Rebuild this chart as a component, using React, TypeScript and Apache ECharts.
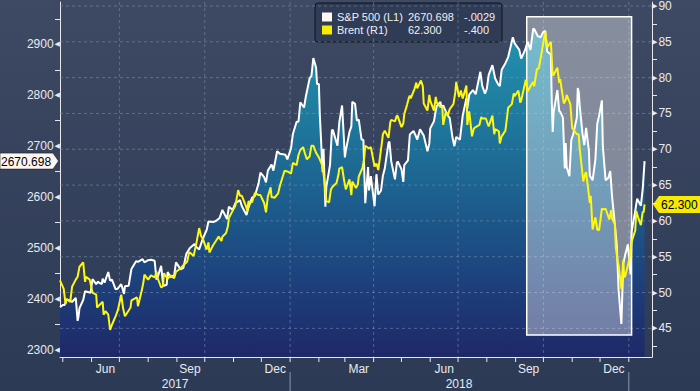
import React, { useEffect, useRef } from 'react';
import * as echarts from 'echarts';

const FONT = "'Liberation Sans', Arial, sans-serif";

const spx: [string, number][] = [
['2017-04-28',2384],['2017-05-01',2388],['2017-05-03',2388],['2017-05-05',2399],['2017-05-09',2397],['2017-05-11',2394],['2017-05-15',2402],['2017-05-17',2357],['2017-05-18',2366],['2017-05-19',2382],['2017-05-23',2398],['2017-05-25',2415],['2017-05-31',2412],['2017-06-02',2439],['2017-06-06',2429],['2017-06-08',2434],['2017-06-09',2432],['2017-06-12',2429],['2017-06-13',2440],['2017-06-15',2432],['2017-06-19',2453],['2017-06-21',2436],['2017-06-23',2438],['2017-06-27',2419],['2017-06-29',2420],['2017-07-03',2429],['2017-07-06',2410],['2017-07-07',2425],['2017-07-11',2426],['2017-07-13',2448],['2017-07-14',2459],['2017-07-19',2474],['2017-07-21',2473],['2017-07-26',2478],['2017-07-28',2472],['2017-08-01',2476],['2017-08-04',2477],['2017-08-08',2475],['2017-08-10',2438],['2017-08-11',2441],['2017-08-15',2465],['2017-08-17',2430],['2017-08-18',2426],['2017-08-21',2428],['2017-08-22',2453],['2017-08-25',2443],['2017-08-29',2446],['2017-08-31',2472],['2017-09-05',2458],['2017-09-08',2461],['2017-09-11',2488],['2017-09-15',2500],['2017-09-20',2508],['2017-09-22',2502],['2017-09-25',2497],['2017-09-29',2519],['2017-10-03',2535],['2017-10-05',2552],['2017-10-10',2551],['2017-10-13',2553],['2017-10-17',2559],['2017-10-20',2575],['2017-10-25',2557],['2017-10-27',2581],['2017-10-31',2575],['2017-11-03',2588],['2017-11-08',2594],['2017-11-10',2582],['2017-11-15',2565],['2017-11-17',2579],['2017-11-21',2599],['2017-11-24',2602],['2017-11-28',2627],['2017-11-30',2648],['2017-12-04',2639],['2017-12-06',2629],['2017-12-08',2652],['2017-12-12',2664],['2017-12-14',2652],['2017-12-18',2690],['2017-12-21',2685],['2017-12-27',2683],['2017-12-29',2674],
['2018-01-02',2696],['2018-01-04',2724],['2018-01-08',2748],['2018-01-10',2748],['2018-01-12',2786],['2018-01-16',2776],['2018-01-18',2798],['2018-01-22',2833],['2018-01-24',2838],['2018-01-26',2873],['2018-01-29',2854],['2018-01-30',2822],['2018-02-01',2822],['2018-02-02',2762],['2018-02-05',2649],['2018-02-06',2695],['2018-02-08',2581],['2018-02-09',2620],['2018-02-13',2663],['2018-02-15',2731],['2018-02-16',2732],['2018-02-21',2701],['2018-02-23',2747],['2018-02-26',2780],['2018-02-28',2714],['2018-03-01',2678],['2018-03-02',2691],['2018-03-06',2728],['2018-03-08',2739],['2018-03-09',2787],['2018-03-12',2783],['2018-03-14',2750],['2018-03-16',2752],['2018-03-19',2713],['2018-03-21',2712],['2018-03-22',2644],['2018-03-23',2588],['2018-03-26',2659],['2018-03-27',2613],['2018-03-29',2641],['2018-04-02',2582],['2018-04-04',2645],['2018-04-06',2605],['2018-04-09',2613],['2018-04-11',2642],['2018-04-13',2656],['2018-04-17',2706],['2018-04-18',2709],['2018-04-20',2670],['2018-04-24',2635],['2018-04-26',2667],['2018-04-27',2670],['2018-05-01',2655],['2018-05-03',2630],['2018-05-04',2663],['2018-05-08',2672],['2018-05-10',2723],['2018-05-14',2730],['2018-05-16',2722],['2018-05-18',2713],['2018-05-21',2733],['2018-05-25',2721],['2018-05-29',2690],['2018-05-31',2705],['2018-06-01',2735],['2018-06-05',2749],['2018-06-07',2770],['2018-06-08',2779],['2018-06-12',2787],['2018-06-13',2776],['2018-06-15',2780],['2018-06-19',2763],['2018-06-22',2755],['2018-06-25',2717],['2018-06-27',2700],['2018-06-29',2718],['2018-07-03',2713],['2018-07-06',2760],['2018-07-10',2794],['2018-07-11',2774],['2018-07-13',2801],['2018-07-17',2810],['2018-07-20',2802],['2018-07-25',2846],['2018-07-27',2819],['2018-07-30',2803],['2018-08-01',2813],['2018-08-03',2840],['2018-08-07',2859],['2018-08-10',2833],['2018-08-13',2822],['2018-08-15',2818],['2018-08-17',2850],['2018-08-21',2863],['2018-08-24',2875],['2018-08-29',2914],['2018-08-31',2902],['2018-09-05',2889],['2018-09-07',2872],['2018-09-11',2888],['2018-09-14',2905],['2018-09-17',2889],['2018-09-20',2931],['2018-09-21',2930],['2018-09-25',2916],['2018-09-28',2914],['2018-10-01',2925],['2018-10-03',2926],['2018-10-05',2886],['2018-10-09',2880],['2018-10-10',2786],['2018-10-11',2728],['2018-10-12',2767],['2018-10-16',2810],['2018-10-18',2769],['2018-10-19',2768],['2018-10-22',2756],['2018-10-24',2656],['2018-10-25',2706],['2018-10-26',2659],['2018-10-29',2641],['2018-10-31',2712],['2018-11-02',2723],['2018-11-06',2756],['2018-11-07',2814],['2018-11-08',2807],['2018-11-09',2781],['2018-11-12',2726],['2018-11-14',2702],['2018-11-16',2736],['2018-11-19',2691],['2018-11-20',2642],['2018-11-23',2633],['2018-11-26',2674],['2018-11-28',2744],['2018-11-30',2760],['2018-12-03',2790],['2018-12-04',2700],['2018-12-07',2633],['2018-12-10',2638],['2018-12-12',2651],['2018-12-14',2600],['2018-12-17',2546],['2018-12-19',2507],['2018-12-21',2417],['2018-12-24',2351],['2018-12-26',2468],['2018-12-28',2486],['2018-12-31',2507],['2019-01-03',2448],['2019-01-04',2532],['2019-01-08',2574],['2019-01-10',2597],['2019-01-14',2583],['2019-01-16',2616],['2019-01-18',2670.698]
];

const brent: [string, number][] = [
['2017-04-28',51.7],['2017-05-02',50.5],['2017-05-04',48.4],['2017-05-05',49.1],['2017-05-09',48.7],['2017-05-11',50.8],['2017-05-15',51.8],['2017-05-17',52.2],['2017-05-19',53.6],['2017-05-23',54.2],['2017-05-25',51.5],['2017-05-26',52.2],['2017-05-30',51.8],['2017-06-01',50.6],['2017-06-02',50.0],['2017-06-06',49.7],['2017-06-07',47.9],['2017-06-09',48.2],['2017-06-13',48.7],['2017-06-14',46.9],['2017-06-16',47.4],['2017-06-19',46.9],['2017-06-21',44.8],['2017-06-23',45.5],['2017-06-27',46.7],['2017-06-29',47.4],['2017-06-30',47.9],['2017-07-03',49.7],['2017-07-05',47.8],['2017-07-07',46.7],['2017-07-11',47.5],['2017-07-13',47.9],['2017-07-14',48.9],['2017-07-18',49.2],['2017-07-20',49.3],['2017-07-21',48.1],['2017-07-25',50.2],['2017-07-27',51.5],['2017-07-28',52.5],['2017-08-01',51.8],['2017-08-04',52.4],['2017-08-08',52.1],['2017-08-10',52.9],['2017-08-11',52.1],['2017-08-15',50.7],['2017-08-17',50.9],['2017-08-18',52.7],['2017-08-22',51.9],['2017-08-25',52.4],['2017-08-29',52.0],['2017-08-31',52.9],['2017-09-05',53.4],['2017-09-08',53.8],['2017-09-12',54.3],['2017-09-14',55.5],['2017-09-15',55.6],['2017-09-19',55.1],['2017-09-22',56.9],['2017-09-25',59.0],['2017-09-27',57.9],['2017-09-29',57.5],['2017-10-03',56.0],['2017-10-05',57.0],['2017-10-06',55.6],['2017-10-10',56.6],['2017-10-13',57.2],['2017-10-16',57.8],['2017-10-19',57.2],['2017-10-20',57.8],['2017-10-24',58.3],['2017-10-26',59.3],['2017-10-27',60.4],['2017-10-31',61.4],['2017-11-03',62.1],['2017-11-06',64.3],['2017-11-08',63.5],['2017-11-10',63.5],['2017-11-14',62.2],['2017-11-16',61.4],['2017-11-17',62.7],['2017-11-21',62.6],['2017-11-24',63.9],['2017-11-28',63.6],['2017-11-30',63.6],['2017-12-04',62.5],['2017-12-06',61.2],['2017-12-08',63.4],['2017-12-11',64.7],['2017-12-12',63.3],['2017-12-14',63.3],['2017-12-15',63.2],['2017-12-19',63.8],['2017-12-21',64.9],['2017-12-26',67.0],['2017-12-29',66.9],
['2018-01-02',66.6],['2018-01-04',68.1],['2018-01-08',67.8],['2018-01-10',69.2],['2018-01-12',69.9],['2018-01-15',70.3],['2018-01-17',69.4],['2018-01-19',68.6],['2018-01-22',69.0],['2018-01-24',70.5],['2018-01-26',70.5],['2018-01-29',69.5],['2018-01-31',69.1],['2018-02-02',68.6],['2018-02-05',67.6],['2018-02-07',65.5],['2018-02-09',62.8],['2018-02-12',62.6],['2018-02-14',64.4],['2018-02-16',64.8],['2018-02-20',65.3],['2018-02-22',66.4],['2018-02-23',67.3],['2018-02-26',67.5],['2018-02-28',65.8],['2018-03-02',64.4],['2018-03-06',65.8],['2018-03-08',63.6],['2018-03-09',65.5],['2018-03-13',64.6],['2018-03-15',65.1],['2018-03-16',66.2],['2018-03-20',67.4],['2018-03-22',68.9],['2018-03-23',70.5],['2018-03-27',70.1],['2018-03-29',70.3],['2018-04-02',67.6],['2018-04-04',68.0],['2018-04-06',67.1],['2018-04-10',71.0],['2018-04-11',72.1],['2018-04-13',72.6],['2018-04-17',71.6],['2018-04-19',73.8],['2018-04-20',74.1],['2018-04-24',73.9],['2018-04-26',74.7],['2018-04-27',74.6],['2018-05-01',73.1],['2018-05-03',73.6],['2018-05-04',74.9],['2018-05-07',76.2],['2018-05-09',77.2],['2018-05-10',77.5],['2018-05-11',77.1],['2018-05-15',78.4],['2018-05-17',79.3],['2018-05-18',78.5],['2018-05-22',79.6],['2018-05-24',78.8],['2018-05-25',76.4],['2018-05-29',75.4],['2018-05-31',77.6],['2018-06-01',76.8],['2018-06-05',75.4],['2018-06-07',77.3],['2018-06-08',76.5],['2018-06-12',75.9],['2018-06-14',75.9],['2018-06-15',73.4],['2018-06-18',75.3],['2018-06-20',74.7],['2018-06-22',75.6],['2018-06-26',76.3],['2018-06-28',77.9],['2018-06-29',79.4],['2018-07-02',77.3],['2018-07-04',78.2],['2018-07-06',77.1],['2018-07-10',78.9],['2018-07-11',73.4],['2018-07-13',75.3],['2018-07-16',71.8],['2018-07-18',72.9],['2018-07-20',73.1],['2018-07-24',73.4],['2018-07-26',74.5],['2018-07-27',74.3],['2018-07-31',74.3],['2018-08-02',73.5],['2018-08-03',73.2],['2018-08-07',74.7],['2018-08-09',72.1],['2018-08-10',72.8],['2018-08-14',72.5],['2018-08-15',70.8],['2018-08-17',71.8],['2018-08-21',72.6],['2018-08-23',74.7],['2018-08-24',75.8],['2018-08-28',76.3],['2018-08-30',77.8],['2018-08-31',77.4],['2018-09-04',78.2],['2018-09-06',76.5],['2018-09-07',76.8],['2018-09-11',79.1],['2018-09-12',79.7],['2018-09-14',78.1],['2018-09-18',79.0],['2018-09-20',79.4],['2018-09-21',78.8],['2018-09-24',81.2],['2018-09-26',81.3],['2018-09-28',82.7],['2018-10-01',85.0],['2018-10-03',86.3],['2018-10-05',84.2],['2018-10-09',85.0],['2018-10-11',80.3],['2018-10-12',80.4],['2018-10-16',81.4],['2018-10-18',79.3],['2018-10-19',79.8],['2018-10-23',76.4],['2018-10-25',76.9],['2018-10-26',77.6],['2018-10-30',76.3],['2018-11-01',72.9],['2018-11-02',72.8],['2018-11-06',72.1],['2018-11-08',72.1],['2018-11-09',70.2],['2018-11-13',65.5],['2018-11-15',66.6],['2018-11-16',66.8],['2018-11-20',62.5],['2018-11-21',63.5],['2018-11-23',58.8],['2018-11-26',60.5],['2018-11-28',58.8],['2018-11-30',58.7],['2018-12-03',61.7],['2018-12-05',61.6],['2018-12-07',61.7],['2018-12-11',60.2],['2018-12-13',61.5],['2018-12-14',60.3],['2018-12-17',59.6],['2018-12-18',56.3],['2018-12-20',54.4],['2018-12-21',53.8],['2018-12-24',50.5],['2018-12-26',54.5],['2018-12-27',52.2],['2018-12-28',52.2],['2018-12-31',53.8],['2019-01-02',54.9],['2019-01-03',56.0],['2019-01-04',57.1],['2019-01-08',58.7],['2019-01-09',61.4],['2019-01-11',60.5],['2019-01-14',59.4],['2019-01-16',61.3],['2019-01-17',61.2],['2019-01-18',62.3]
];

const xMin = '2017-04-28';
const xMax = '2019-01-26';
const leftMin = 2286;
const leftMax = 2983;
const rightMin = 41;
const rightMax = 90.55;

const leftTicks = [2300, 2400, 2500, 2600, 2700, 2800, 2900];
const leftMinor = [2350, 2450, 2550, 2650, 2750, 2850, 2950];
const rightTicks = [45, 50, 55, 60, 65, 70, 75, 80, 85, 90];
const rightMinor = [42.5, 47.5, 52.5, 57.5, 62.5, 67.5, 72.5, 77.5, 82.5, 87.5];

const monthStarts = ['2017-05-01','2017-06-01','2017-07-01','2017-08-01','2017-09-01','2017-10-01','2017-11-01','2017-12-01','2018-01-01','2018-02-01','2018-03-01','2018-04-01','2018-05-01','2018-06-01','2018-07-01','2018-08-01','2018-09-01','2018-10-01','2018-11-01','2018-12-01','2019-01-01'];
const monthLabels: [string, string][] = [['2017-06-16','Jun'],['2017-09-15','Sep'],['2017-12-16','Dec'],['2018-03-16','Mar'],['2018-06-16','Jun'],['2018-09-15','Sep'],['2018-12-16','Dec']];
const yearLabels: [string, string][] = [['2017-08-30','2017'],['2018-07-02','2018']];
const yearBreaks = ['2018-01-01','2019-01-01'];
const quarterLines = ['2017-07-01','2017-10-01','2018-01-01','2018-04-01','2018-07-01','2018-10-01','2019-01-01'];

const highlightBox: [string, string, number, number] = ['2018-09-13', '2019-01-04', 2329, 2954];

const legendNames = ['S&P 500 (L1)', 'Brent (R1)'];
const legendChanges = ['-.0029', '-.400'];
const legendColors = ['#fff6f2', '#f6ee00'];

const ts = (d: string) => {
  const [y, m, dd] = d.split('-').map(Number);
  return new Date(y, m - 1, dd).getTime();
};

export default function App() {
  const ref = useRef<HTMLDivElement>(null);
  useEffect(() => {
    const chart = echarts.init(ref.current!, null, { renderer: 'svg' });
    const spxLast = spx[spx.length - 1][1];
    const brentLast = brent[brent.length - 1][1];
    const lastVals = [spxLast.toFixed(3), brentLast.toFixed(3)];

    const areaGradient = new echarts.graphic.LinearGradient(0, 0, 0, 1, [
      { offset: 0, color: '#2392b0' },
      { offset: 0.25, color: '#1f7c9f' },
      { offset: 0.55, color: '#1c5b8c' },
      { offset: 0.8, color: '#1d3d7a' },
      { offset: 1, color: '#1f2868' },
    ]);

    const legendEls: any[] = [
      { type: 'rect', shape: { x: 315, y: 3, width: 187, height: 39, r: 3 }, style: { fill: '#303b56', stroke: '#0e121a', lineWidth: 1 } },
    ];
    legendNames.forEach((n, i) => {
      const cy = 17 + i * 13;
      legendEls.push({ type: 'rect', shape: { x: 322, y: cy - 4.5, width: 10, height: 9 }, style: { fill: legendColors[i] } });
      legendEls.push({ type: 'text', style: { x: 337, y: cy, text: n, fill: '#eef0f4', font: `11px ${FONT}`, verticalAlign: 'middle' } });
      legendEls.push({ type: 'text', style: { x: 408, y: cy, text: lastVals[i], fill: '#eef0f4', font: `11px ${FONT}`, verticalAlign: 'middle' } });
      legendEls.push({ type: 'text', style: { x: 464, y: cy, text: legendChanges[i], fill: '#eef0f4', font: `11px ${FONT}`, verticalAlign: 'middle' } });
    });

    const option: any = {
      animation: false,
      backgroundColor: new echarts.graphic.LinearGradient(0, 0, 0, 1, [
        { offset: 0, color: '#3e4963' },
        { offset: 1, color: '#2c3a55' },
      ]),
      grid: { left: 60, right: 48, top: 0, bottom: 34 },
      xAxis: {
        type: 'time', min: xMin, max: xMax,
        axisLine: { show: true, lineStyle: { color: '#e8e8ec', width: 1 } },
        axisTick: { show: false }, axisLabel: { show: false }, splitLine: { show: false },
      },
      yAxis: [
        {
          type: 'value', position: 'left', min: leftMin, max: leftMax,
          axisLine: { show: true, lineStyle: { color: '#e8e8ec', width: 1 } },
          axisTick: { show: true, customValues: leftMinor, length: 5, lineStyle: { color: '#e8e8ec' } },
          axisLabel: {
            customValues: leftTicks, margin: 0,
            formatter: (v: number) => `{v|${v}}{a|◀}`,
            rich: {
              v: { color: '#e8eaf0', fontSize: 12, fontFamily: FONT },
              a: { color: '#e8eaf0', fontSize: 7, fontFamily: 'DejaVu Sans', padding: [0, 0, 0, 1] },
            },
          },
          splitLine: { show: false },
        },
        {
          type: 'value', position: 'right', min: rightMin, max: rightMax,
          axisLine: { show: true, lineStyle: { color: '#e8e8ec', width: 1 } },
          axisTick: { show: true, customValues: rightMinor, length: 5, lineStyle: { color: '#e8e8ec' } },
          axisLabel: {
            customValues: rightTicks, margin: 0,
            formatter: (v: number) => `{a|▶}{v|${v}}`,
            rich: {
              v: { color: '#e8eaf0', fontSize: 12, fontFamily: FONT },
              a: { color: '#e8eaf0', fontSize: 7, fontFamily: 'DejaVu Sans', padding: [0, 1, 0, 0] },
            },
          },
          splitLine: { show: false },
        },
      ],
      series: [
        {
          type: 'line', name: 'spxArea', data: spx, yAxisIndex: 0, symbol: 'none', silent: true,
          lineStyle: { width: 0, opacity: 0 }, areaStyle: { color: areaGradient, opacity: 1, origin: 'start' }, z: 1,
        },
        {
          type: 'custom', name: 'gridH', yAxisIndex: 1, silent: true, z: 2, clip: false,
          data: rightTicks.map((v) => [ts(xMin), v]),
          renderItem: (params: any, api: any) => {
            const cs = params.coordSys;
            const y = api.coord([api.value(0), api.value(1)])[1];
            return { type: 'line', shape: { x1: cs.x, y1: y, x2: cs.x + cs.width, y2: y }, style: { stroke: 'rgba(125,145,175,0.55)', lineWidth: 1, lineDash: [3, 3] } };
          },
        },
        {
          type: 'custom', name: 'gridV', yAxisIndex: 0, silent: true, z: 2, clip: false,
          data: quarterLines.map((d) => [ts(d), leftMin]),
          renderItem: (params: any, api: any) => {
            const cs = params.coordSys;
            const x = api.coord([api.value(0), api.value(1)])[0];
            return { type: 'line', shape: { x1: x, y1: cs.y, x2: x, y2: cs.y + cs.height }, style: { stroke: 'rgba(125,145,175,0.55)', lineWidth: 1, lineDash: [3, 3] } };
          },
        },
        {
          type: 'custom', name: 'highlight', yAxisIndex: 0, silent: true, z: 3, clip: false,
          encode: { x: [0, 1], y: [2, 3] },
          data: [[ts(highlightBox[0]), ts(highlightBox[1]), highlightBox[2], highlightBox[3]]],
          renderItem: (params: any, api: any) => {
            const p1 = api.coord([api.value(0), api.value(3)]);
            const p2 = api.coord([api.value(1), api.value(2)]);
            return { type: 'rect', shape: { x: p1[0], y: p1[1], width: p2[0] - p1[0], height: p2[1] - p1[1] }, style: { fill: 'rgba(255,255,255,0.38)', stroke: '#ffffff', lineWidth: 1.5 } };
          },
        },
        {
          type: 'line', name: 'S&P 500', data: spx, yAxisIndex: 0, symbol: 'none', z: 4,
          lineStyle: { color: '#ffffff', width: 2 },
        },
        {
          type: 'line', name: 'Brent', data: brent, yAxisIndex: 1, symbol: 'none', z: 5,
          lineStyle: { color: '#fdf712', width: 2 },
        },
        {
          type: 'custom', name: 'xticks', yAxisIndex: 0, silent: true, z: 6, clip: false,
          data: monthStarts.map((d) => [ts(d), leftMin]),
          renderItem: (params: any, api: any) => {
            const cs = params.coordSys;
            const x = api.coord([api.value(0), api.value(1)])[0];
            const b = cs.y + cs.height;
            return { type: 'line', shape: { x1: x, y1: b, x2: x, y2: b + 5 }, style: { stroke: '#e8e8ec', lineWidth: 1 } };
          },
        },
        {
          type: 'custom', name: 'xlabels', yAxisIndex: 0, silent: true, z: 6, clip: false,
          data: monthLabels.map((m) => [ts(m[0]), leftMin]),
          renderItem: (params: any, api: any) => {
            const cs = params.coordSys;
            const x = api.coord([api.value(0), api.value(1)])[0];
            const b = cs.y + cs.height;
            return { type: 'text', style: { x, y: b + 12, text: monthLabels[params.dataIndex][1], fill: '#e8eaf0', font: `12px ${FONT}`, align: 'center', verticalAlign: 'middle' } };
          },
        },
        {
          type: 'custom', name: 'ylabels', yAxisIndex: 0, silent: true, z: 6, clip: false,
          data: yearLabels.map((m) => [ts(m[0]), leftMin]),
          renderItem: (params: any, api: any) => {
            const cs = params.coordSys;
            const x = api.coord([api.value(0), api.value(1)])[0];
            const b = cs.y + cs.height;
            return { type: 'text', style: { x, y: b + 27, text: yearLabels[params.dataIndex][1], fill: '#e8eaf0', font: `12px ${FONT}`, align: 'center', verticalAlign: 'middle' } };
          },
        },
        {
          type: 'custom', name: 'ybreaks', yAxisIndex: 0, silent: true, z: 6, clip: false,
          data: yearBreaks.map((d) => [ts(d), leftMin]),
          renderItem: (params: any, api: any) => {
            const cs = params.coordSys;
            const x = api.coord([api.value(0), api.value(1)])[0];
            const b = cs.y + cs.height;
            return { type: 'line', shape: { x1: x, y1: b + 15, x2: x, y2: b + 40 }, style: { stroke: '#8a96aa', lineWidth: 1 } };
          },
        },
      ],
      graphic: { elements: legendEls },
    };
    chart.setOption(option);

    const yL = chart.convertToPixel({ yAxisIndex: 0 }, spxLast) as unknown as number;
    const yR = chart.convertToPixel({ yAxisIndex: 1 }, brentLast) as unknown as number;
    const tags: any[] = [
      { type: 'polygon', shape: { points: [[0, yL - 8], [53, yL - 8], [58.5, yL], [53, yL + 8], [0, yL + 8]] }, style: { fill: '#fff5ef', stroke: '#1a1a1a', lineWidth: 0.6 } },
      { type: 'text', style: { x: 1, y: yL + 0.5, text: lastVals[0], fill: '#000000', font: `12px ${FONT}`, verticalAlign: 'middle' } },
      { type: 'polygon', shape: { points: [[653, yR], [659, yR - 8.5], [700, yR - 8.5], [700, yR + 8.5], [659, yR + 8.5]] }, style: { fill: '#f6ea00' } },
      { type: 'text', style: { x: 661, y: yR + 0.5, text: lastVals[1], fill: '#000000', font: `12px ${FONT}`, verticalAlign: 'middle' } },
    ];
    chart.setOption({ graphic: { elements: [...legendEls, ...tags] } });

    return () => chart.dispose();
  }, []);
  return <div ref={ref} style={{ position: 'absolute', left: 0, top: 0, width: 700, height: 391 }} />;
}
